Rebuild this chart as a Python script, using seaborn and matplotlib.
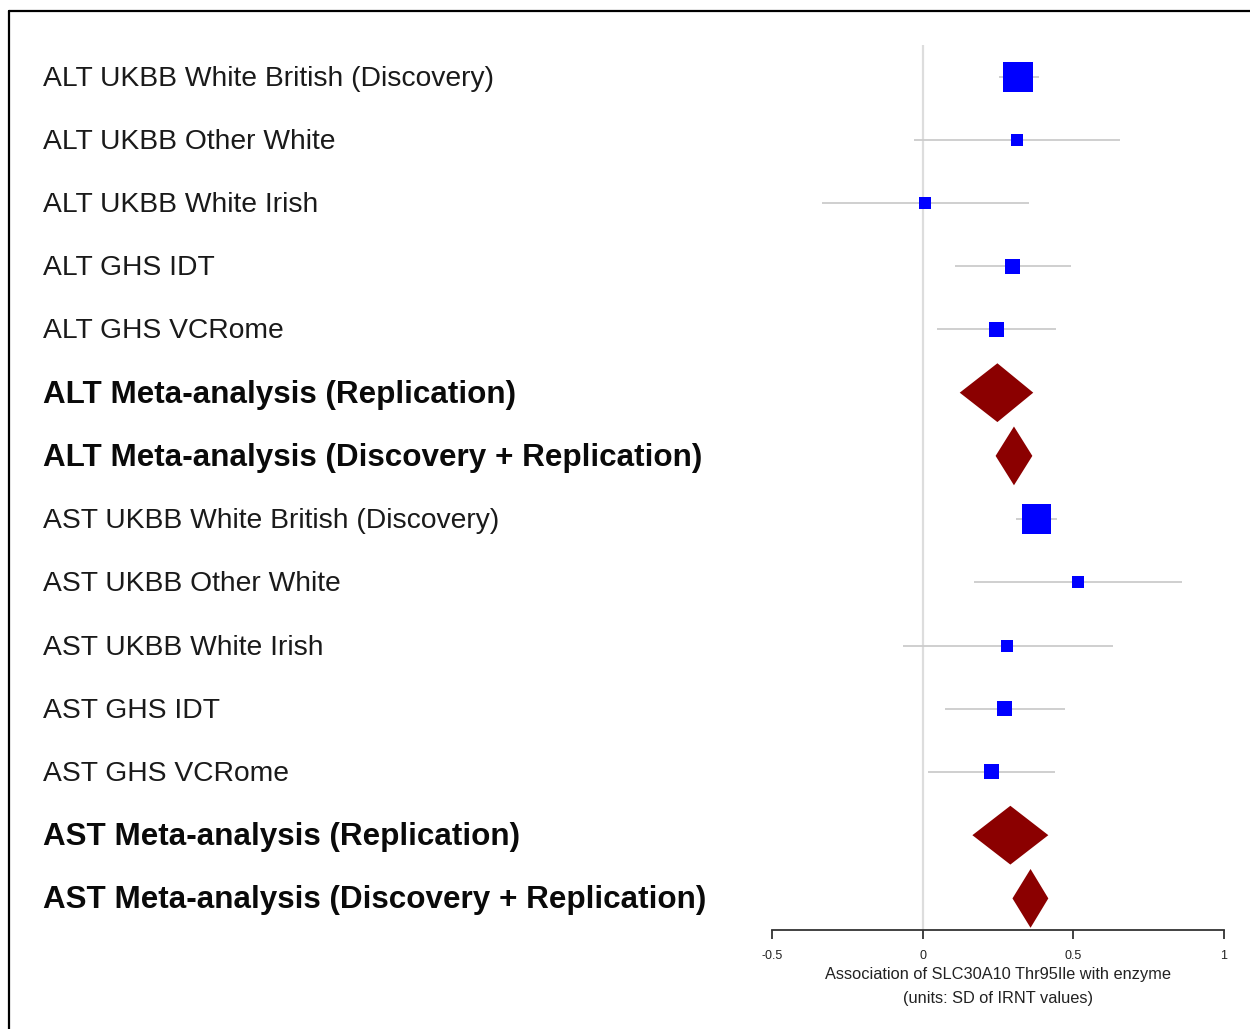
import numpy as np
import pandas as pd
import matplotlib
matplotlib.use("Agg")
import matplotlib.pyplot as plt
from matplotlib.lines import Line2D
import seaborn as sns

labels = [
    "ALT UKBB White British (Discovery)",
    "ALT UKBB Other White",
    "ALT UKBB White Irish",
    "ALT GHS IDT",
    "ALT GHS VCRome",
    "ALT Meta-analysis (Replication)",
    "ALT Meta-analysis (Discovery + Replication)",
    "AST UKBB White British (Discovery)",
    "AST UKBB Other White",
    "AST UKBB White Irish",
    "AST GHS IDT",
    "AST GHS VCRome",
    "AST Meta-analysis (Replication)",
    "AST Meta-analysis (Discovery + Replication)",
]
is_summary = [False, False, False, False, False, True, True,
              False, False, False, False, False, True, True]
estimate = [0.318, 0.314, 0.007, 0.298, 0.245, 0.248, 0.303,
            0.377, 0.516, 0.280, 0.272, 0.229, 0.291, 0.358]
lower = [0.252, -0.029, -0.334, 0.106, 0.046, 0.123, 0.242,
         0.309, 0.169, -0.065, 0.073, 0.019, 0.165, 0.298]
upper = [0.387, 0.656, 0.352, 0.493, 0.441, 0.367, 0.364,
         0.446, 0.861, 0.630, 0.473, 0.440, 0.417, 0.417]
box_weight = [2.0, 0.8, 0.8, 1.0, 1.0, 0, 0,
              1.95, 0.8, 0.8, 1.0, 1.0, 0, 0]
xticks = [-0.5, 0, 0.5, 1]
xtick_labels = ["-0.5", "0", "0.5", "1"]
xlabel_lines = ["Association of SLC30A10 Thr95Ile with enzyme", "(units: SD of IRNT values)"]

df = pd.DataFrame({"label": labels, "est": estimate, "lo": lower, "hi": upper,
                   "summary": is_summary, "w": box_weight})
df["row"] = np.arange(len(df))

sns.set_style("white")
plt.rcParams["font.family"] = ["Liberation Sans", "DejaVu Sans"]

W, H = 1250, 1029
fig = plt.figure(figsize=(W / 100, H / 100), dpi=100)
ax = fig.add_axes([772 / W, 1 - 930 / H, (1224 - 772) / W, (930 - 45) / H])
ax.set_xlim(-0.5, 1)
ax.set_ylim(len(df) - 0.5, -0.5)

# zero reference line
ax.axvline(0, color="#dddddd", lw=1.6, zorder=0)

studies = df[~df["summary"]]
ax.hlines(studies["row"], studies["lo"], studies["hi"], color="#cccccc", lw=1.3, zorder=1)

px_per_w = 15.0  # pixels of box side per unit weight
sizes = ((studies["w"] * px_per_w) * 72 / 100) ** 2
sns.scatterplot(x=studies["est"], y=studies["row"], marker="s", s=sizes.values,
                color="#0000ff", edgecolor="none", ax=ax, zorder=3, legend=False)

for _, r in df[df["summary"]].iterrows():
    h = 0.465
    ax.fill([r["lo"], r["est"], r["hi"], r["est"]],
            [r["row"], r["row"] - h, r["row"], r["row"] + h],
            color="#8b0000", lw=0, zorder=3)

for _, r in df.iterrows():
    y_fig = 1 - (45 + 2 + (r["row"] + 0.5) * (885 / len(df))) / H
    if r["summary"]:
        fig.text(43 / W, y_fig, r["label"], ha="left", va="center",
                 fontsize=22.6, fontweight="bold", color="#0a0a0a")
    else:
        fig.text(43 / W, y_fig, r["label"], ha="left", va="center",
                 fontsize=20.3, color="#1a1a1a")

for s in ["top", "right", "left"]:
    ax.spines[s].set_visible(False)
ax.spines["bottom"].set_color("#333333")
ax.spines["bottom"].set_linewidth(1.3)
ax.set_yticks([])
ax.set_xticks(xticks)
ax.set_xticklabels(xtick_labels)
ax.tick_params(axis="x", bottom=True, direction="out", length=6.5, width=1.3,
               color="#333333", labelsize=9, pad=8, labelcolor="#222222")
ax.set_xlabel("")
ax.set_ylabel("")
xmid = (772 + 1224) / 2 / W
fig.text(xmid, 1 - 974 / H, xlabel_lines[0], ha="center", va="center",
         fontsize=11.8, color="#222222")
fig.text(xmid, 1 - 999 / H, xlabel_lines[1], ha="center", va="center",
         fontsize=11.8, color="#222222")

# outer frame (top and left edges visible)
fig.add_artist(Line2D([8.5 / W, 1.0], [1 - 11 / H, 1 - 11 / H], color="black", lw=1.6,
                      transform=fig.transFigure))
fig.add_artist(Line2D([8.5 / W, 8.5 / W], [1 - 11 / H, 0], color="black", lw=1.6,
                      transform=fig.transFigure))

fig.savefig("out.png", dpi=100, facecolor="white")
